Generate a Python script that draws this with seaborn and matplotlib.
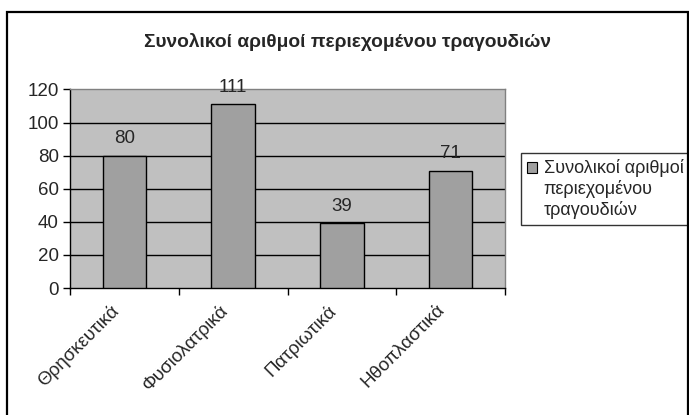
import matplotlib
matplotlib.use("Agg")
import matplotlib.pyplot as plt
import seaborn as sns
from matplotlib.patches import Rectangle, Patch
from matplotlib.legend_handler import HandlerPatch

categories = ["Θρησκευτικά", "Φυσιολατρικά", "Πατριωτικά", "Ηθοπλαστικά"]
values = [80, 111, 39, 71]
series_name = "Συνολικοί αριθμοί περιεχομένου τραγουδιών"
legend_label = "Συνολικοί αριθμοί\nπεριεχομένου\nτραγουδιών"
yticks = [0, 20, 40, 60, 80, 100, 120]

sns.set_theme(style="white")
plt.rcParams["font.family"] = ["Liberation Sans", "DejaVu Sans"]

FS = 13.5
BAR_COLOR = "#A0A0A0"
W, H = 689, 415
fig = plt.figure(figsize=(W / 100, H / 100), dpi=100)
fig.patch.set_facecolor("white")

# outer chart border
fig.patches.append(Rectangle((7 / W, -0.01), (688 - 7) / W, (H - 12) / H + 0.01,
                             transform=fig.transFigure, fill=False,
                             edgecolor="black", linewidth=1.6))

l, r, t, b = 70, 505, 89.5, 288
ax = fig.add_axes([l / W, 1 - b / H, (r - l) / W, (b - t) / H])
ax.set_facecolor("#C0C0C0")

sns.barplot(x=categories, y=values, color=BAR_COLOR, edgecolor="black",
            linewidth=1.0, width=0.40, saturation=1, ax=ax, zorder=3)

ax.set_ylim(0, 120)
ax.set_xlim(-0.5, len(categories) - 0.5)
ax.set_yticks(yticks)
ax.set_yticklabels([str(v) for v in yticks], fontsize=FS)
for yv in yticks[1:-1]:
    ax.axhline(yv, color="black", linewidth=1.0, zorder=1)

ax.set_xticks([i - 0.5 for i in range(len(categories) + 1)])
ax.set_xticklabels([])
ax.tick_params(axis="both", which="both", direction="out", length=5, width=1,
               color="black", bottom=True, left=True)
ax.tick_params(axis="y", pad=3)
for i, c in enumerate(categories):
    ax.text(i - 0.13, -8, c, rotation=45, ha="right", va="top",
            rotation_mode="anchor", fontsize=FS, transform=ax.transData,
            clip_on=False)

for s in ["top", "right"]:
    ax.spines[s].set_visible(True)
    ax.spines[s].set_color("#808080")
    ax.spines[s].set_linewidth(1.0)
for s in ["left", "bottom"]:
    ax.spines[s].set_color("black")
    ax.spines[s].set_linewidth(1.0)

for i, v in enumerate(values):
    ax.annotate(str(v), (i, v), xytext=(0, 6), textcoords="offset points",
                ha="center", va="bottom", fontsize=FS, clip_on=False)

ax.set_xlabel("")
ax.set_ylabel("")

fig.text(347 / W, 1 - 42 / H, series_name, ha="center", va="center",
         fontsize=13.8, fontweight="bold")


class TopLineHandler(HandlerPatch):
    """Draw the legend key next to the first text line (Excel style)."""
    def create_artists(self, legend, orig_handle, xdescent, ydescent,
                       width, height, fontsize, trans):
        p = Rectangle((-xdescent, -ydescent + 1.2 * fontsize), width, height,
                      facecolor=orig_handle.get_facecolor(),
                      edgecolor=orig_handle.get_edgecolor(),
                      linewidth=orig_handle.get_linewidth(), transform=trans)
        return [p]


handle = Patch(facecolor=BAR_COLOR, edgecolor="black", linewidth=0.8)
leg = ax.legend(handles=[handle], labels=[legend_label], loc="upper left",
                bbox_to_anchor=(521 / W, 1 - 153 / H), bbox_transform=fig.transFigure,
                fontsize=13, frameon=True, fancybox=False, handlelength=0.55,
                handleheight=0.55, handletextpad=0.35, borderpad=0.35,
                borderaxespad=0, handler_map={Patch: TopLineHandler()})
leg.get_frame().set_edgecolor("black")
leg.get_frame().set_linewidth(1.0)

fig.savefig("out.png", dpi=100)
